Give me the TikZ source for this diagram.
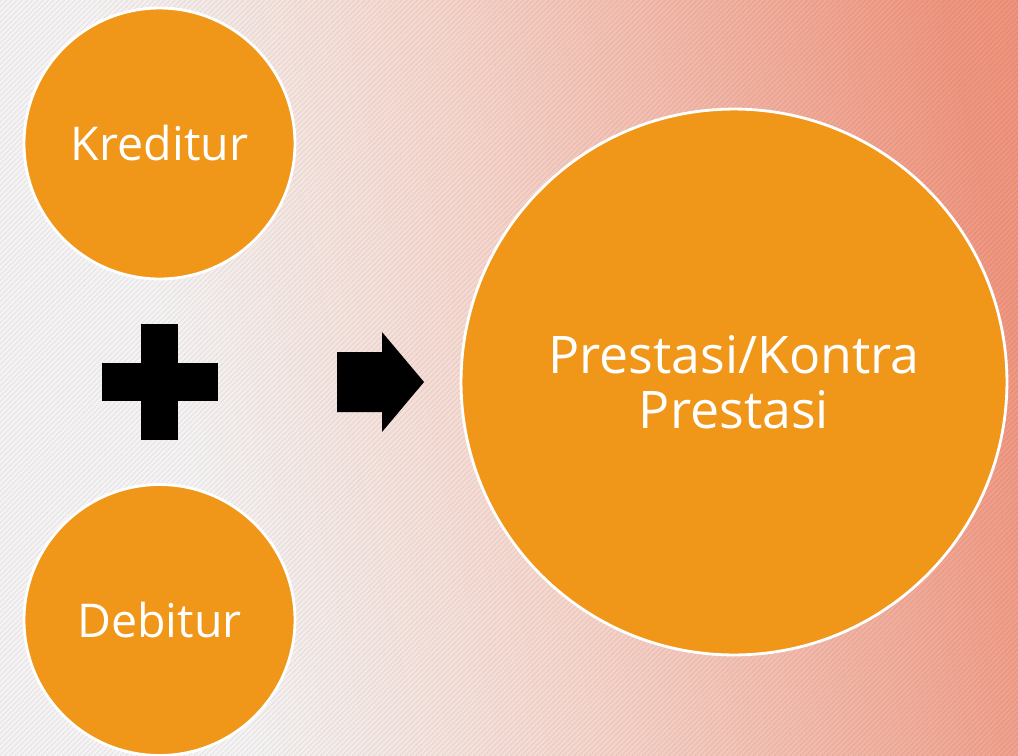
\documentclass[tikz,border=0pt]{standalone}
\usepackage{fontspec}
\setmainfont{Open Sans}
\usepackage{xcolor}
\usepackage{tikz}
\usetikzlibrary{patterns,positioning}

\definecolor{circorange}{HTML}{F09619}
\definecolor{bgpale}{HTML}{F4F2F2}
\definecolor{bgpink}{HTML}{F5D6CD}
\definecolor{bgsalmon}{HTML}{F09680}
\definecolor{bgdeep}{HTML}{EE8068}

\pgfdeclarehorizontalshading{slidebg}{100bp}{%
  color(0bp)=(bgpale); color(33bp)=(bgpale); color(50bp)=(bgpink); color(76bp)=(bgsalmon); color(100bp)=(bgdeep)}

\begin{document}
\begin{tikzpicture}[
  x=0.02cm, y=-0.02cm,
  font=\fontsize{26.5}{31}\selectfont,
  party/.style={circle, fill=circorange, draw=white, line width=1.6pt, text=white, align=center, minimum size=5.42cm, inner sep=0pt},
  result/.style={party, minimum size=10.92cm, font=\fontsize{29.5}{31}\selectfont},
  glyph/.style={fill=black}
]
\useasboundingbox (0,0) rectangle (1018,755);
\clip (0,0) rectangle (1018,755);
% background
\shade[shading=slidebg, shading angle=12] (0,0) rectangle (1018,755);
\fill[pattern=north east lines, pattern color=black, opacity=0.07] (0,0) rectangle (1018,755);
% circles
\node[party] (kreditur) at (159.5,143.5) {Kreditur};
\node[party] (debitur) at (159.5,620) {Debitur};
\node[result] (prestasi) at (734,382) {Prestasi/Kontra\\Prestasi};
% plus sign
\fill[glyph] (141,324) rectangle (178,440);
\fill[glyph] (102,363) rectangle (218,401);
% block arrow
\fill[glyph] (337,352) -- (382,352) -- (382,332) -- (424,382)
  -- (382,432) -- (382,412) -- (337,412) -- cycle;
\end{tikzpicture}
\end{document}
